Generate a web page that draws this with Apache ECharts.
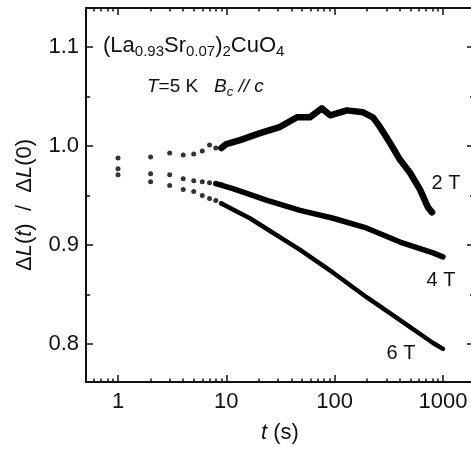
<!DOCTYPE html>
<html>
<head>
<meta charset="utf-8">
<title>Relaxation of dL(t)/dL(0)</title>
<script src="https://cdn.jsdelivr.net/npm/echarts@6/dist/echarts.min.js"></script>
<style>
    html, body { margin: 0; padding: 0; background: #fff; }
    #chart { width: 471px; height: 456px; }
</style>
</head>
<body>
<div id="chart"></div>
<script>
    // sparse points at the start of each run (t in s)
    var dotTimes = [1, 2, 3, 4, 5, 6, 7, 8, 9];
    var dots2T = [0.988, 0.989, 0.993, 0.991, 0.992, 0.995, 1.001, 0.998, 0.998];
    var dots4T = [0.977, 0.972, 0.971, 0.967, 0.965, 0.964, 0.963, 0.962, 0.961];
    var dots6T = [0.971, 0.964, 0.960, 0.956, 0.954, 0.950, 0.947, 0.945, 0.942];

    // dense traces
    var trace2T_t = [9, 10, 13.4, 20.5, 31, 45, 59, 68, 76, 91, 130, 183, 226, 263, 325, 402, 497, 615, 728, 794];
    var trace2T_v = [0.998, 1.002, 1.006, 1.013, 1.019, 1.029, 1.029, 1.034, 1.038, 1.031, 1.036, 1.034, 1.029, 1.019, 1.003, 0.986, 0.973, 0.956, 0.938, 0.933];
    var trace4T_t = [8, 11.5, 23.8, 48, 97, 199, 402, 811, 1000];
    var trace4T_v = [0.962, 0.957, 0.945, 0.935, 0.927, 0.917, 0.903, 0.892, 0.888];
    var trace6T_t = [9, 16.5, 48, 97, 199, 402, 811, 1000];
    var trace6T_v = [0.942, 0.927, 0.895, 0.872, 0.847, 0.824, 0.801, 0.795];

    // axis ticks
    var xMajor = [1, 10, 100, 1000];
    var xMinorSteps = [2, 3, 4, 5, 6, 7, 8, 9];
    var yMajor = [0.8, 0.9, 1.0, 1.1];
    var yMinor = [0.85, 0.95, 1.05];

    var xMin = -0.2955, xMax = 3.287;   // log10 of axis ends
    var yMin = 0.7616, yMax = 1.1394;

    var font = 'Liberation Sans, Arial, sans-serif';
    var ink = '#111';

    function lg(t) { return Math.log10(t); }
    function pairs(ts, vs) {
        return ts.map(function (t, i) { return [lg(t), vs[i]]; });
    }

    var xMajorLog = xMajor.map(lg);
    var xMinorLog = [];
    [0.1, 1, 10, 100, 1000].forEach(function (d) {
        xMinorSteps.forEach(function (k) {
            var v = lg(k * d);
            if (v > xMin && v < xMax) xMinorLog.push(v);
        });
    });

    function xAx(pos, ticks, len, main) {
        return {
            type: 'value', position: pos, min: xMin, max: xMax,
            axisLine: { show: main, onZero: false, lineStyle: { color: ink, width: 2 } },
            axisTick: { inside: true, length: len, customValues: ticks, lineStyle: { color: ink, width: 1.5 } },
            axisLabel: { show: false },
            splitLine: { show: false }
        };
    }
    function yAx(pos, ticks, len, main) {
        return {
            type: 'value', position: pos, min: yMin, max: yMax,
            axisLine: { show: main, onZero: false, lineStyle: { color: ink, width: 2 } },
            axisTick: { inside: true, length: len, customValues: ticks, lineStyle: { color: ink, width: 1.5 } },
            axisLabel: { show: false },
            splitLine: { show: false }
        };
    }

    var xBottom = xAx('bottom', xMajorLog, 7, true);
    xBottom.axisLabel = {
        show: true, customValues: xMajorLog, margin: 9,
        fontSize: 22, fontFamily: font, color: ink,
        formatter: function (v) { return String(Math.round(Math.pow(10, v))); }
    };
    xBottom.name = '{i|t} (s)';
    xBottom.nameLocation = 'middle';
    xBottom.nameGap = 40;
    xBottom.nameTextStyle = {
        fontSize: 22, fontFamily: font, color: ink,
        rich: { i: { fontSize: 22, fontFamily: font, fontStyle: 'italic', color: ink } }
    };

    var yLeft = yAx('left', yMajor, 7, true);
    yLeft.axisLabel = {
        show: true, customValues: yMajor, margin: 7,
        fontSize: 22, fontFamily: font, color: ink,
        formatter: function (v) { return v.toFixed(1); }
    };

    var chart = echarts.init(document.getElementById('chart'));

    function dotSeries(name, vs) {
        return {
            name: name, type: 'scatter', xAxisIndex: 0, yAxisIndex: 0,
            data: pairs(dotTimes, vs), symbolSize: 5,
            itemStyle: { color: '#000' }, silent: true
        };
    }
    function traceSeries(name, ts, vs, w) {
        return {
            name: name, type: 'line', xAxisIndex: 0, yAxisIndex: 0,
            data: pairs(ts, vs), showSymbol: false, symbol: 'none',
            lineStyle: { color: '#000', width: w, cap: 'round', join: 'round' },
            silent: true
        };
    }

    chart.setOption({
        animation: false,
        backgroundColor: '#fff',
        grid: { left: 86, top: 8, right: -3, bottom: 74, containLabel: false, outerBoundsMode: 'none' },
        xAxis: [
            xBottom,
            xAx('bottom', xMinorLog, 3.5, false),
            xAx('top', xMajorLog, 7, true),
            xAx('top', xMinorLog, 3.5, false)
        ],
        yAxis: [
            yLeft,
            yAx('left', yMinor, 4, false),
            yAx('right', yMajor, 7, true),
            yAx('right', yMinor, 4, false)
        ],
        series: [
            dotSeries('2 T', dots2T),
            dotSeries('4 T', dots4T),
            dotSeries('6 T', dots6T),
            traceSeries('2 T', trace2T_t, trace2T_v, 6.5),
            traceSeries('4 T', trace4T_t, trace4T_v, 5.5),
            traceSeries('6 T', trace6T_t, trace6T_v, 4.5)
        ],
        graphic: [
            {
                type: 'text', x: 103, y: 46,
                style: {
                    text: '{n|(La}{s|0.93}{n|Sr}{s|0.07}{n|)}{s|2}{n|CuO}{s|4}',
                    verticalAlign: 'middle', fill: ink,
                    rich: {
                        n: { fontSize: 22, fontFamily: font, fill: ink },
                        s: { fontSize: 15, fontFamily: font, fill: ink, padding: [12, 0, 0, 0] }
                    }
                }
            },
            {
                type: 'text', x: 147, y: 87,
                style: {
                    text: '{i|T}{n|=5 K   }{i|B}{s|c}{i| // c}',
                    verticalAlign: 'middle', fill: ink,
                    rich: {
                        n: { fontSize: 19, fontFamily: font, fill: ink },
                        i: { fontSize: 19, fontFamily: font, fontStyle: 'italic', fill: ink },
                        s: { fontSize: 13, fontFamily: font, fontStyle: 'italic', fill: ink, padding: [10, 0, 0, 0] }
                    }
                }
            },
            { type: 'text', x: 446, y: 183, style: { text: '2 T', fontSize: 20, fontFamily: font, fill: ink, align: 'center', verticalAlign: 'middle' } },
            { type: 'text', x: 441, y: 280, style: { text: '4 T', fontSize: 20, fontFamily: font, fill: ink, align: 'center', verticalAlign: 'middle' } },
            { type: 'text', x: 401, y: 353, style: { text: '6 T', fontSize: 20, fontFamily: font, fill: ink, align: 'center', verticalAlign: 'middle' } },
            {
                type: 'text', x: 25, y: 205, rotation: Math.PI / 2,
                style: {
                    text: '{n|Δ}{i|L}{n|(}{i|t}{n|)  /  Δ}{i|L}{n|(0)}',
                    align: 'center', verticalAlign: 'middle', fill: ink,
                    rich: {
                        n: { fontSize: 22, fontFamily: font, fill: ink },
                        i: { fontSize: 22, fontFamily: font, fontStyle: 'italic', fill: ink }
                    }
                }
            }
        ]
    });
</script>
</body>
</html>
